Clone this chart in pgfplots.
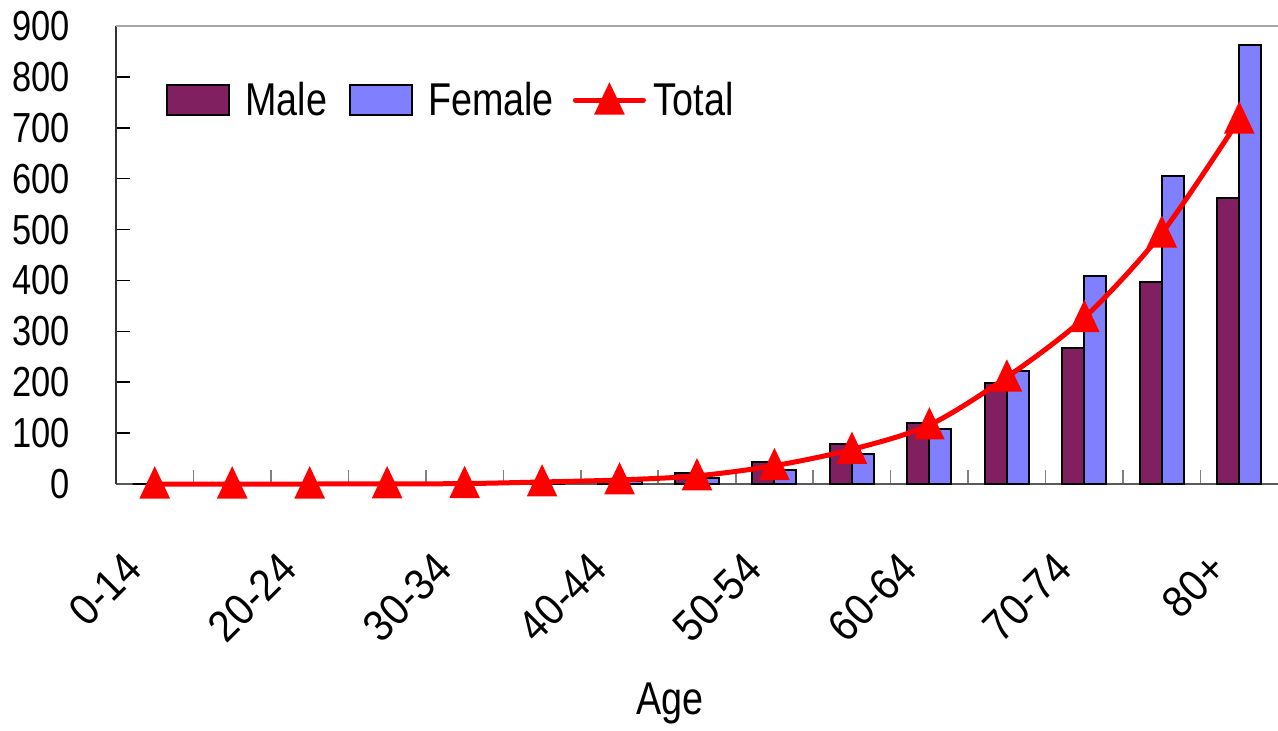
\documentclass[border=0pt]{standalone}
\usepackage{pgfplots}
\pgfplotsset{compat=1.18}
\usepackage{fontspec}
\setmainfont{Liberation Sans}[FakeStretch=0.82]
\newfontfamily\ticklab{Liberation Sans}[FakeStretch=0.91]

\definecolor{malec}{RGB}{128,32,96}
\definecolor{femalec}{RGB}{128,128,255}

\pgfplotsset{
  barlegend/.style={legend image code/.code={\draw[##1] (0pt,-7.5pt) rectangle (31pt,7.5pt);}},
  linelegend/.style={legend image code/.code={\draw[mark repeat=2, mark phase=2, ##1]
    plot coordinates {(0pt,0pt) (17pt,0pt) (34pt,0pt)};}},
}

\begin{document}
\begin{tikzpicture}
\path[use as bounding box] (-58pt,-123pt) rectangle (581pt,242pt);
\begin{axis}[
  at={(0,0)}, anchor=south west,
  width=581pt, height=229pt, scale only axis,
  xmin=-0.5, xmax=14.5, ymin=0, ymax=900,
  clip=false,
  axis x line*=bottom, axis y line*=left,
  x axis line style={black!65, line width=1pt},
  y axis line style={black!80, line width=1pt},
  tick align=inside,
  xtick={0,...,14},
  xticklabels={0-14,,20-24,,30-34,,40-44,,50-54,,60-64,,70-74,,80+},
  major x tick style={draw=none},
  minor x tick num=1,
  minor x tick style={gray, line width=0.8pt},
  minor tick length=7pt,
  ytick={0,100,...,900},
  major y tick style={black, line width=0.8pt},
  major tick length=7pt,
  /pgf/number format/assume math mode=true,
  xticklabel style={font=\ticklab\fontsize{22}{22}\selectfont, inner sep=0pt,
    xshift=-10.5pt, yshift=-38.5pt, rotate=45, anchor=east},
  yticklabel style={font=\fontsize{21}{21}\selectfont, inner sep=0pt,
    anchor=east, xshift=-23pt},
  xlabel={Age},
  xlabel style={font=\fontsize{23}{23}\selectfont,
    at={(axis description cs:0.4768,0)}, anchor=center, yshift=-109.5pt},
  legend columns=-1,
  legend style={draw=none, fill=none, at={(axis description cs:0,1)},
    anchor=west, xshift=25pt, yshift=-37pt, inner sep=0pt,
    font=\fontsize{23}{23}\selectfont, nodes={inner sep=0pt},
    /tikz/column 1/.style={column sep=7.5pt},
    /tikz/column 2/.style={column sep=11pt},
    /tikz/column 3/.style={column sep=7.5pt},
    /tikz/column 4/.style={column sep=9.5pt},
    /tikz/column 5/.style={column sep=4pt}},
]

\draw[black!35, line width=1pt] (rel axis cs:0,1) -- (rel axis cs:1,1);

% 0-14, 15-19, ..., 75-79, 80+
\addplot[ybar, bar width=0.284, bar shift=-0.142, fill=malec, draw=black,
  line width=1pt, barlegend]
  coordinates {
  (0,0) (1,0) (2,0) (3,0.5) (4,1) (5,5) (6,10) (7,21)
  (8,44) (9,79) (10,120) (11,199) (12,268) (13,397) (14,563)
  };
\addlegendentry{Male}

\addplot[ybar, bar width=0.284, bar shift=0.142, fill=femalec, draw=black,
  line width=1pt, barlegend]
  coordinates {
  (0,0) (1,0) (2,0) (3,0.3) (4,0.5) (5,3) (6,6) (7,12)
  (8,28) (9,59) (10,109) (11,222) (12,409) (13,606) (14,863)
  };
\addlegendentry{Female}

\addplot[red, line width=2.5pt, line cap=round, smooth,
  mark=triangle*, mark size=8pt,
  mark options={solid, xscale=0.82, yshift=-2pt}, linelegend]
  coordinates {
  (0,0) (1,0) (2,0) (3,0.4) (4,0.8) (5,4) (6,8) (7,16)
  (8,36) (9,68) (10,116) (11,210) (12,327) (13,493) (14,717)
  };
\addlegendentry{Total}

\end{axis}
\end{tikzpicture}
\end{document}
